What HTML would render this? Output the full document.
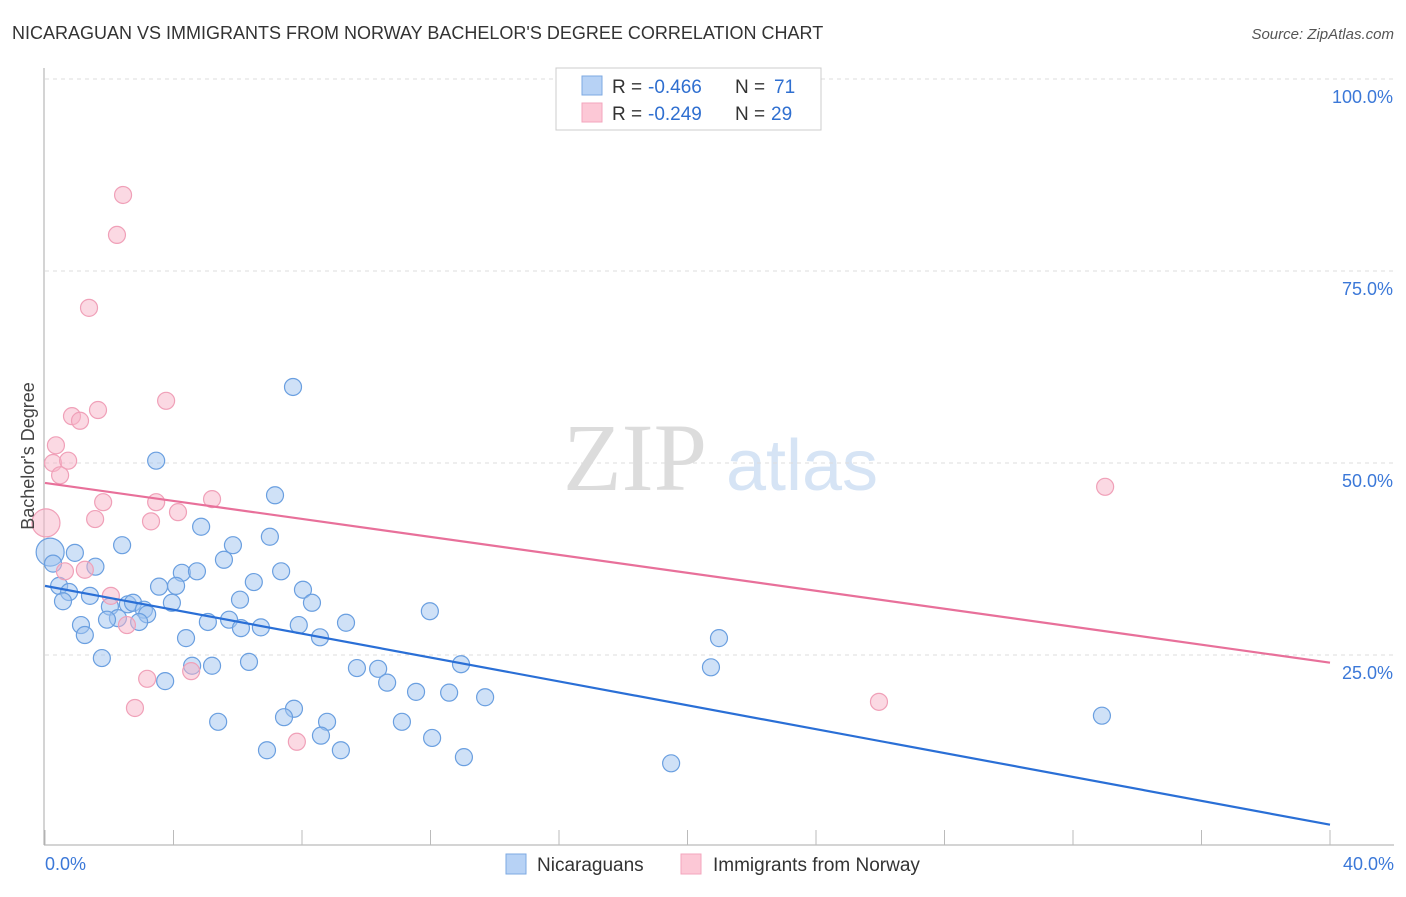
<!DOCTYPE html>
<html><head><meta charset="utf-8"><style>
body{margin:0;background:#fff;font-family:"Liberation Sans",sans-serif}
</style></head><body>
<svg width="1406" height="892" viewBox="0 0 1406 892" xmlns="http://www.w3.org/2000/svg">
<text x="12" y="39" font-size="18" fill="#333">NICARAGUAN VS IMMIGRANTS FROM NORWAY BACHELOR'S DEGREE CORRELATION CHART</text>
<text x="1394" y="39" font-size="15" fill="#555" text-anchor="end" font-style="italic">Source: ZipAtlas.com</text>
<g>
<text x="635" y="490" font-size="96" fill="#dcdcdc" font-family="Liberation Serif" text-anchor="middle">ZIP</text>
<text x="802" y="490" font-size="72" fill="#d6e4f5" text-anchor="middle">atlas</text>
</g>
<g id="grid"></g>
<g id="axes"></g>
<g id="marks"></g>
<text transform="translate(34,456) rotate(-90)" font-size="18" fill="#444" text-anchor="middle">Bachelor's Degree</text>
<g>
<rect x="556" y="68" width="265" height="62" fill="#fff" stroke="#ccc"/>
<rect x="582" y="76" width="20" height="19" fill="#b7d2f5" stroke="#7ea9e2"/>
<rect x="582" y="103" width="20" height="19" fill="#fcc8d6" stroke="#f3a6bd"/>
<text x="612" y="93" font-size="19" fill="#333">R =</text>
<text x="648" y="93" font-size="19" fill="#2f6fd0">-0.466</text>
<text x="735" y="93" font-size="19" fill="#333">N =</text>
<text x="774" y="93" font-size="19" fill="#2f6fd0">71</text>
<text x="612" y="120" font-size="19" fill="#333">R =</text>
<text x="648" y="120" font-size="19" fill="#2f6fd0">-0.249</text>
<text x="735" y="120" font-size="19" fill="#333">N =</text>
<text x="771" y="120" font-size="19" fill="#2f6fd0">29</text>
</g>
<g>
<rect x="506" y="854" width="20" height="20" fill="#b7d2f5" stroke="#7ea9e2"/>
<text x="537" y="871" font-size="19" fill="#333">Nicaraguans</text>
<rect x="681" y="854" width="20" height="20" fill="#fcc8d6" stroke="#f3a6bd"/>
<text x="713" y="871" font-size="19" fill="#333">Immigrants from Norway</text>
</g>
</svg>
<script>
const xTicks=[0,40];
const xTickLabels=["0.0%","40.0%"];
const yTicks=[25,50,75,100];
const yTickLabels=["25.0%","50.0%","75.0%","100.0%"];
const blueX=[7.72,3.46,7.16,4.86,2.40,5.85,7.0,0.93,0.16,0.25,1.57,5.57,4.26,4.73,7.35,0.44,0.75,1.40,0.56,3.55,4.08,6.5,8.03,6.07,3.95,8.31,2.02,2.58,2.74,3.08,3.18,2.27,1.93,2.93,1.12,1.24,5.07,5.73,6.1,6.72,7.9,9.37,8.56,4.39,11.98,20.98,1.77,4.58,5.2,6.35,9.71,10.37,12.95,20.73,3.74,10.65,11.55,12.58,13.7,7.75,7.44,5.39,8.78,11.11,8.59,12.05,6.91,9.21,13.04,19.49,32.9];
const blueY=[59.9,50.3,45.8,41.7,39.3,39.3,40.4,38.3,38.4,36.9,36.5,37.4,35.7,35.9,35.9,34.0,33.2,32.7,32.0,33.9,34.0,34.5,33.5,32.2,31.8,31.8,31.3,31.6,31.8,30.9,30.3,29.8,29.6,29.3,28.9,27.6,29.3,29.6,28.5,28.6,28.9,29.2,27.3,27.2,30.7,27.2,24.6,23.6,23.6,24.1,23.3,23.2,23.8,23.4,21.6,21.4,20.2,20.1,19.5,18.0,16.9,16.3,16.3,16.3,14.5,14.2,12.6,12.6,11.7,10.9,17.1];
const pinkX=[2.43,2.24,1.37,3.77,1.65,0.84,1.09,0.34,0.25,0.72,0.47,1.81,3.46,5.2,1.56,4.14,3.3,0.03,0.62,1.24,2.05,2.55,3.18,4.55,2.80,7.84,25.96,33.0];
const pinkY=[84.9,79.7,70.2,58.1,56.9,56.1,55.5,52.3,50.0,50.3,48.4,44.9,44.9,45.3,42.7,43.6,42.4,42.2,35.9,36.1,32.7,28.9,21.9,22.9,18.1,13.7,18.9,46.9];
const blueTrend=[34.0,2.9];
const pinkTrend=[47.4,24.0];
const NS="http://www.w3.org/2000/svg";
const X=v=>45+v/40*1285, Y=v=>847-v*7.68;
function mk(t,a,p){const e=document.createElementNS(NS,t);for(const k in a)e.setAttribute(k,a[k]);document.getElementById(p).appendChild(e);return e;}
yTicks.forEach((t,i)=>{
 const l=mk('line',{x1:45,x2:1394,y1:Y(t),y2:Y(t),stroke:'#ddd','stroke-dasharray':'4,4'},'grid');
 
 
 const tx=mk('text',{x:1393,y:Y(t)+24,'font-size':18,fill:'#3b78d8','text-anchor':'end'},'axes');
 tx.textContent=yTickLabels[i];
 
 
});
const ax=mk('line',{x1:44,x2:44,y1:68,y2:845,stroke:'#aaa'},'axes');


const bx=mk('line',{x1:44,x2:1394,y1:845,y2:845,stroke:'#aaa'},'axes');


for(let i=0;i<=10;i++){const v=i*4;const t=mk('line',{x1:X(v),x2:X(v),y1:830,y2:845,stroke:'#bbb'},'axes');
 
 }
xTicks.forEach((t,i)=>{const tx=mk('text',{x:i==0?45:1394,y:870,'font-size':18,fill:'#3b78d8','text-anchor':i==0?'start':'end'},'axes');
 tx.textContent=xTickLabels[i];
 
 });
function pts(xs,ys,fill,stroke,name){xs.forEach((x,i)=>{const big=x<0.2;const c=mk('circle',{cx:X(x),cy:Y(ys[i]),r:big?14:8.5,fill:fill,stroke:stroke,'stroke-width':1.2},'marks');
 
 });}
pts(blueX,blueY,'rgba(160,196,240,0.5)','#6a9fe0','nicaraguan-point');
pts(pinkX,pinkY,'rgba(248,180,200,0.5)','#f0a0b8','norway-point');
const tb=mk('line',{x1:X(0),x2:X(40),y1:Y(blueTrend[0]),y2:Y(blueTrend[1]),stroke:'#2a6fd6','stroke-width':2.2},'marks');


const tp=mk('line',{x1:X(0),x2:X(40),y1:Y(pinkTrend[0]),y2:Y(pinkTrend[1]),stroke:'#e8709a','stroke-width':2.2},'marks');


</script>
</body></html>
